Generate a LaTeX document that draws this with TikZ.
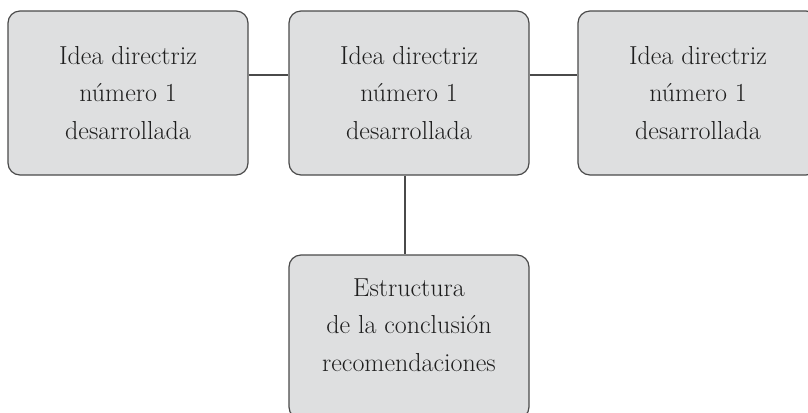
\documentclass[tikz,border=0pt]{standalone}
\usepackage{fontspec}
\usetikzlibrary{positioning}

\definecolor{boxfill}{HTML}{DEDFE0}
\definecolor{boxline}{HTML}{4A4A4A}
\definecolor{boxtext}{HTML}{1E1E1E}

\tikzset{
    ideabox/.style={draw=boxline, fill=boxfill, line width=0.9pt,
        rounded corners=9pt, minimum width=180pt, minimum height=123pt,
        align=center, text=boxtext, inner sep=0pt,
        font=\fontsize{19.5}{28}\selectfont},
    link/.style={draw=boxline, line width=0.9pt}
}

\begin{document}
\begin{tikzpicture}[x=0.75pt,y=-0.75pt]
    % Frame of the picture
    \clip (0,0) rectangle (808,412);

    % Boxes
    \node[ideabox] (left)  at (128,93) {Idea directriz\\ número 1\\ desarrollada};
    \node[ideabox] (mid)   at (409,93) {Idea directriz\\ número 1\\ desarrollada};
    \node[ideabox] (right) at (698,93) {Idea directriz\\ número 1\\ desarrollada};
    \node[ideabox] (concl) at (409,337) {Estructura\\ de la conclusión\\ recomendaciones\\[-10pt]};

    % Connectors
    \draw[link] ([yshift=13.5pt]left.east) -- ([yshift=13.5pt]mid.west);
    \draw[link] ([yshift=13.5pt]mid.east) -- ([yshift=13.5pt]right.west);
    \draw[link] ([xshift=-3pt]mid.south) -- ([xshift=-3pt]concl.north);
\end{tikzpicture}
\end{document}
